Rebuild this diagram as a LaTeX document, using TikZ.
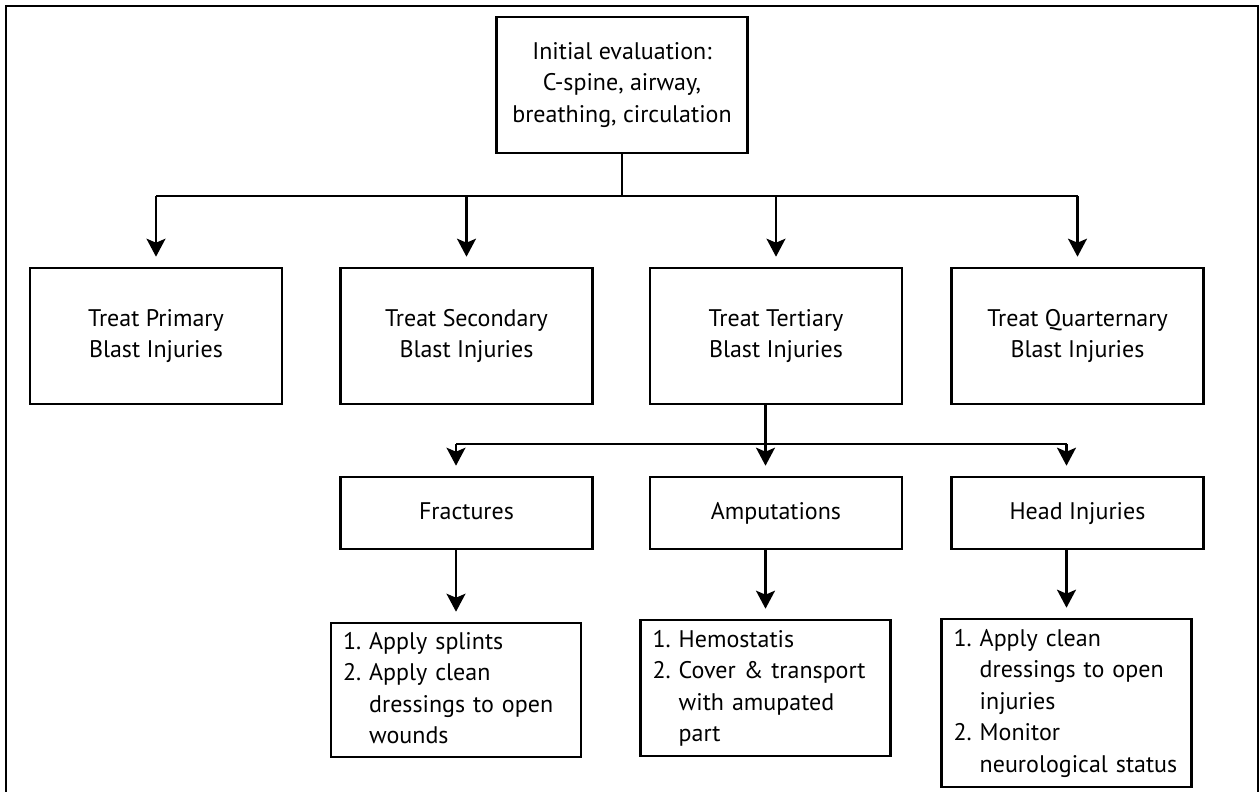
\documentclass[tikz,border=0pt]{standalone}
\usepackage{fontspec}
\setmainfont{PT Sans}
\usepackage{tikz}
\usetikzlibrary{arrows.meta, positioning}

\tikzset{
    box/.style={draw, line width=1.3pt, minimum width=126pt, minimum height=68pt, align=center, inner sep=2pt},
    sub/.style={box, minimum height=36pt, text height=9pt, text depth=3pt},
    todo/.style={draw, line width=1.3pt, text width=113pt, inner xsep=6pt, inner ysep=2pt, align=left, minimum height=67pt},
    link/.style={->, shorten >=5pt},
}

\begin{document}
\begin{tikzpicture}[>={Stealth[length=9pt,width=9.5pt,inset=2pt]}, node distance=3cm, on grid, line width=1.1pt, font=\fontsize{12}{15.75}\selectfont]
        \useasboundingbox (0,0) rectangle (630pt,-396pt);
        \draw[line width=0.9pt] (3pt,-396pt) -- (3pt,-3pt) -- (629pt,-3pt) -- (629pt,-396pt);

        \node[box, minimum width=125.5pt]   (init)    at (311pt,-42.5pt)                        {Initial evaluation:\\C-spine, airway,\\breathing, circulation};

        \node[box]    (sec)      [below left=125.5pt and 77.75pt of init]    {Treat Secondary\\Blast Injuries};
        \node[box]    (prim)     [left=155.25pt of sec]                      {Treat Primary\\Blast Injuries};
        \node[box]    (tert)     [below right=125.5pt and 77pt of init]      {Treat Tertiary\\Blast Injuries};
        \node[box]    (quart)    [right=150.75pt of tert]                    {Treat Quarternary\\Blast Injuries};

        \node[sub]    (frac)     [below=88.5pt of sec]                       {Fractures};
        \node[sub]    (amp)      [below=88.5pt of tert]                      {Amputations};
        \node[sub]    (head)     [below=88.5pt of quart]                     {Head Injuries};

        \node[todo]   (frac_tx)  [below left=88.5pt and 5.25pt of frac]
            {\begin{tabular}{@{}l@{\ }l@{}}1. & Apply splints\\ 2. & Apply clean\\ & dressings to open\\ & wounds\end{tabular}};
        \node[todo, minimum height=68pt]   (amp_tx)   [below left=87.5pt and 5.25pt of amp]
            {\begin{tabular}{@{}l@{\ }l@{}}1. & Hemostatis\\ 2. & Cover \& transport\\ & with amupated\\ & part\end{tabular}};
        \node[todo, minimum height=84pt]   (head_tx)  [below left=95pt and 5.5pt of head]
            {\begin{tabular}{@{}l@{\ }l@{}}1. & Apply clean\\ & dressings to open\\ & injuries\\ 2. & Monitor\\ & neurological status\end{tabular}};

        % first split
        \draw (init.south) -- ++(0,-21pt) coordinate (fork_a);
        \draw (prim.north |- fork_a) -- (quart.north |- fork_a);
        \foreach \n in {prim, sec, tert, quart}
            \draw[link] (\n.north |- fork_a) -- (\n.north);

        % second split
        \draw (amp_tx |- tert.south) -- ++(0,-19.25pt) coordinate (fork_b);
        \draw (frac_tx |- fork_b) -- (head_tx |- fork_b);
        \foreach \n in {frac, amp, head} {
            \draw[link] (\n_tx |- fork_b) -- (\n_tx |- \n.north);
            \draw[link] (\n_tx |- \n.south) -- (\n_tx.north);
        }
    \end{tikzpicture}
\end{document}
